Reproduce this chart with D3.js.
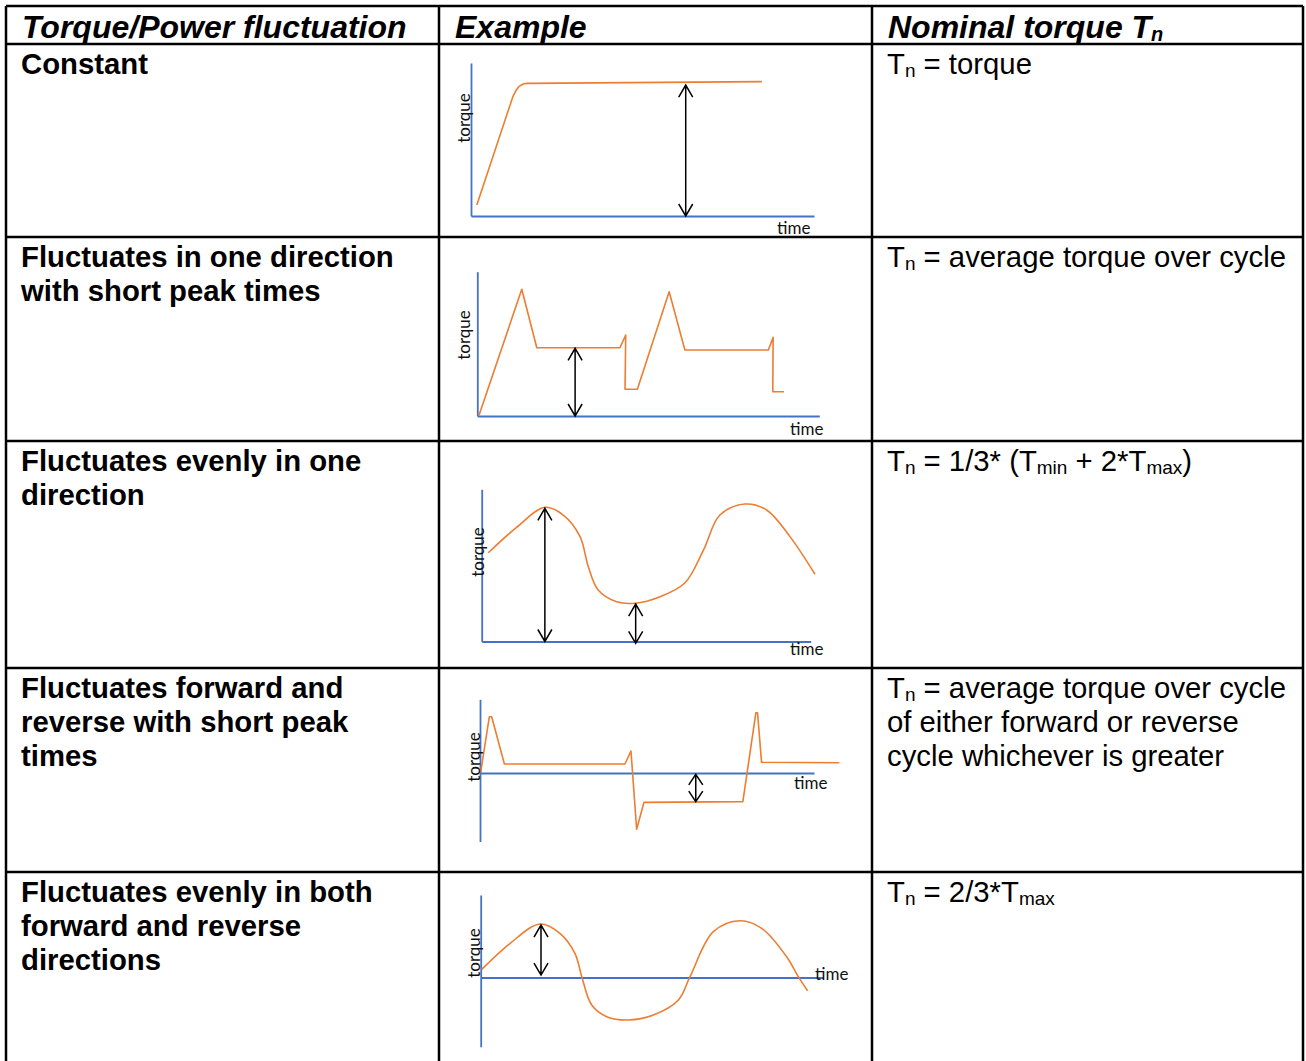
<!DOCTYPE html>
<html>
<head>
<meta charset="utf-8">
<script src="https://cdn.jsdelivr.net/npm/d3@7/dist/d3.min.js"></script>
<style>
html,body{margin:0;padding:0;background:#fff;}
svg{display:block;}
</style>
</head>
<body>
<svg id="chart" width="1306" height="1061"></svg>
<script>
// ---------------- DATA ----------------
const headers = ["Torque/Power fluctuation", "Example", "Nominal torque T_{n}"];

const fluctuationTypes = [
  ["Constant"],
  ["Fluctuates in one direction", "with short peak times"],
  ["Fluctuates evenly in one", "direction"],
  ["Fluctuates forward and", "reverse with short peak", "times"],
  ["Fluctuates evenly in both", "forward and reverse", "directions"]
];

const nominalTorque = [
  ["T_{n} = torque"],
  ["T_{n} = average torque over cycle"],
  ["T_{n} = 1/3* (T_{min} + 2*T_{max})"],
  ["T_{n} = average torque over cycle", "of either forward or reverse", "cycle whichever is greater"],
  ["T_{n} = 2/3*T_{max}"]
];

// example curves: [time, torque]
const constantCurve = [[0.17,0.72],[1.22,7.80],[1.31,8.20],[1.40,8.47],[1.52,8.63],[1.63,8.67],[8.48,8.78]];
const shortPeakCurve = [[0.05,0.05],[1.30,8.78],[1.74,4.73],[4.17,4.73],[4.34,5.61],[4.32,1.85],[4.68,1.85],[5.61,8.61],[6.07,4.57],[8.51,4.57],[8.65,5.45],[8.64,1.68],[8.97,1.68]];
const evenOneDirCurve = [[0.20,5.83],[1.06,7.50],[1.92,8.82],[2.48,8.31],[2.99,6.89],[3.24,4.91],[3.54,3.38],[4.10,2.61],[4.66,2.51],[5.42,2.94],[6.18,3.86],[6.74,6.01],[7.24,8.31],[8.00,9.03],[8.66,8.64],[9.37,6.89],[10.13,4.42]];
const fwdRevPeakCurve = [[0.02,0.09],[0.28,7.64],[0.35,7.64],[0.73,1.22],[4.34,1.22],[4.52,2.99],[4.69,-7.64],[4.91,-3.98],[7.87,-3.89],[8.26,8.18],[8.31,8.18],[8.43,1.45],[10.76,1.40]];
const evenBothDirCurve = [[0.03,0.99],[0.86,4.15],[1.73,6.48],[2.31,5.36],[2.75,2.93],[2.95,0.10],[3.24,-3.33],[3.68,-4.75],[4.31,-5.15],[5.04,-4.55],[5.77,-2.73],[6.11,0.10],[6.79,5.55],[7.57,6.88],[8.20,5.96],[8.93,2.52],[9.27,0.10],[9.54,-1.60]];

// double arrows: [time, torqueFrom, torqueTo]
const constantArrows = [[6.26, 0, 8.56]];
const shortPeakArrows = [[2.86, 0, 4.69]];
const evenOneDirArrows = [[1.92, 0, 8.75], [4.68, -0.12, 2.46]];
const fwdRevPeakArrows = [[6.46, -0.18, -3.89]];
const evenBothDirArrows = [[1.76, 0.30, 6.36]];

const torqueDomains = [[0, 10], [0, 10], [0, 10], [-9.3, 10], [-8.4, 10]];
const timeDomain = [0, 10];
const axisLabels = {y: "torque", x: "time"};

// ---------------- LAYOUT ----------------
const colEdges = [6, 439, 872, 1303];
const rowEdges = [6, 44, 237, 441, 668, 872, 1080];

const frames = [
  {x0:471,   W:343,   y0:216,   H:153,   yl:[463,118], xl:[777,234], curve:"linear"},
  {x0:477.3, W:342,   y0:416,   H:144.3, yl:[463,335], xl:[790,435], curve:"linear"},
  {x0:481.7, W:329,   y0:641.5, H:152.2, yl:[477,552], xl:[790,655], curve:"smooth"},
  {x0:480,   W:334,   y0:773,   H:73.7,  yl:[473,757], xl:[794,789], curve:"linear"},
  {x0:480.7, W:342.6, y0:977.5, H:82.5,  yl:[473,953], xl:[815,980], curve:"smooth"}
];

const curves = [constantCurve, shortPeakCurve, evenOneDirCurve, fwdRevPeakCurve, evenBothDirCurve];
const arrows = [constantArrows, shortPeakArrows, evenOneDirArrows, fwdRevPeakArrows, evenBothDirArrows];

const BLUE = "#4472C4", ORANGE = "#ED7D31";
const svg = d3.select("#chart");

// rich text with _{sub}
function richText(sel, str, size, subSize, subDy) {
  const parts = str.split(/(_\{[^}]*\})/).filter(s => s.length);
  let prevSub = false;
  parts.forEach(p => {
    const isSub = p.startsWith("_{");
    const t = sel.append("tspan").text(isSub ? p.slice(2, -1) : p);
    if (isSub) { t.attr("font-size", subSize).attr("dy", subDy); }
    else if (prevSub) { t.attr("dy", -subDy); }
    prevSub = isSub;
  });
}

// ---------------- TABLE TEXT ----------------
const BODY = 29.3, LINE = 34, HEAD = 32;
headers.forEach((h, i) => {
  const t = svg.append("text")
    .attr("x", colEdges[i] + 16).attr("y", rowEdges[0] + 32)
    .attr("font-family", "Liberation Sans, Arial, sans-serif")
    .attr("font-weight", "bold").attr("font-style", "italic")
    .attr("font-size", HEAD).attr("fill", "#000");
  richText(t, h, HEAD, 20, 3);
});

fluctuationTypes.forEach((lines, r) => {
  lines.forEach((ln, k) => {
    svg.append("text")
      .attr("x", colEdges[0] + 15).attr("y", rowEdges[r + 1] + 30 + k * LINE)
      .attr("font-family", "Liberation Sans, Arial, sans-serif")
      .attr("font-weight", "bold").attr("font-size", BODY).attr("fill", "#000")
      .text(ln);
  });
});

nominalTorque.forEach((lines, r) => {
  lines.forEach((ln, k) => {
    const t = svg.append("text")
      .attr("x", colEdges[2] + 15).attr("y", rowEdges[r + 1] + 30 + k * LINE)
      .attr("font-family", "Liberation Sans, Arial, sans-serif")
      .attr("font-size", BODY).attr("fill", "#000");
    richText(t, ln, BODY, 19, 3);
  });
});

// ---------------- EXAMPLE CHARTS ----------------
frames.forEach((f, i) => {
  const x = d3.scaleLinear().domain(timeDomain).range([f.x0, f.x0 + f.W]);
  const y = d3.scaleLinear().domain([0, 10]).range([f.y0, f.y0 - f.H]);
  const yd = torqueDomains[i];
  const g = svg.append("g");

  // axes
  const yAxisScale = y.copy().domain(yd).range([y(yd[0]), y(yd[1])]);
  const ya = g.append("g").attr("transform", `translate(${x(0)},0)`)
    .call(d3.axisLeft(yAxisScale).tickValues([]).tickSizeOuter(0));
  const xa = g.append("g").attr("transform", `translate(0,${y(0)})`)
    .call(d3.axisBottom(x).tickValues([]).tickSizeOuter(0));
  [ya, xa].forEach(a => a.select(".domain").attr("stroke", BLUE).attr("stroke-width", 1.8));

  // curve
  const line = d3.line().x(d => x(d[0])).y(d => y(d[1]))
    .curve(f.curve === "smooth" ? d3.curveCatmullRom.alpha(0.5) : d3.curveLinear);
  g.append("path").datum(curves[i]).attr("d", line)
    .attr("fill", "none").attr("stroke", ORANGE).attr("stroke-width", 1.6)
    .attr("stroke-linejoin", "round");

  // double arrows
  arrows[i].forEach(a => {
    const ax = x(a[0]), yA = y(a[1]), yB = y(a[2]);
    const top = Math.min(yA, yB), bot = Math.max(yA, yB);
    const len = Math.min(12, (bot - top) / 2.6), hw = 7;
    const p = d3.path();
    p.moveTo(ax, top); p.lineTo(ax, bot);
    p.moveTo(ax - hw, top + len); p.lineTo(ax, top); p.lineTo(ax + hw, top + len);
    p.moveTo(ax - hw, bot - len); p.lineTo(ax, bot); p.lineTo(ax + hw, bot - len);
    g.append("path").attr("d", p.toString()).attr("fill", "none")
      .attr("stroke", "#000").attr("stroke-width", 1.5);
  });

  // axis labels
  g.append("text")
    .attr("transform", `translate(${f.yl[0]},${f.yl[1]}) rotate(-90)`)
    .attr("text-anchor", "middle").attr("dominant-baseline", "central")
    .attr("font-family", "Lato, Carlito, sans-serif").attr("font-size", 17)
    .attr("fill", "#111").text(axisLabels.y);
  g.append("text")
    .attr("x", f.xl[0]).attr("y", f.xl[1])
    .attr("font-family", "Lato, Carlito, sans-serif").attr("font-size", 17)
    .attr("fill", "#111").text(axisLabels.x);
});

// ---------------- TABLE GRID ----------------
const grid = svg.append("g").attr("stroke", "#000").attr("stroke-width", 2.5);
rowEdges.slice(0, 6).forEach(yv => {
  grid.append("line").attr("x1", colEdges[0]).attr("x2", colEdges[3]).attr("y1", yv).attr("y2", yv);
});
colEdges.forEach(xv => {
  grid.append("line").attr("x1", xv).attr("x2", xv).attr("y1", rowEdges[0]).attr("y2", 1075);
});
</script>
</body>
</html>
